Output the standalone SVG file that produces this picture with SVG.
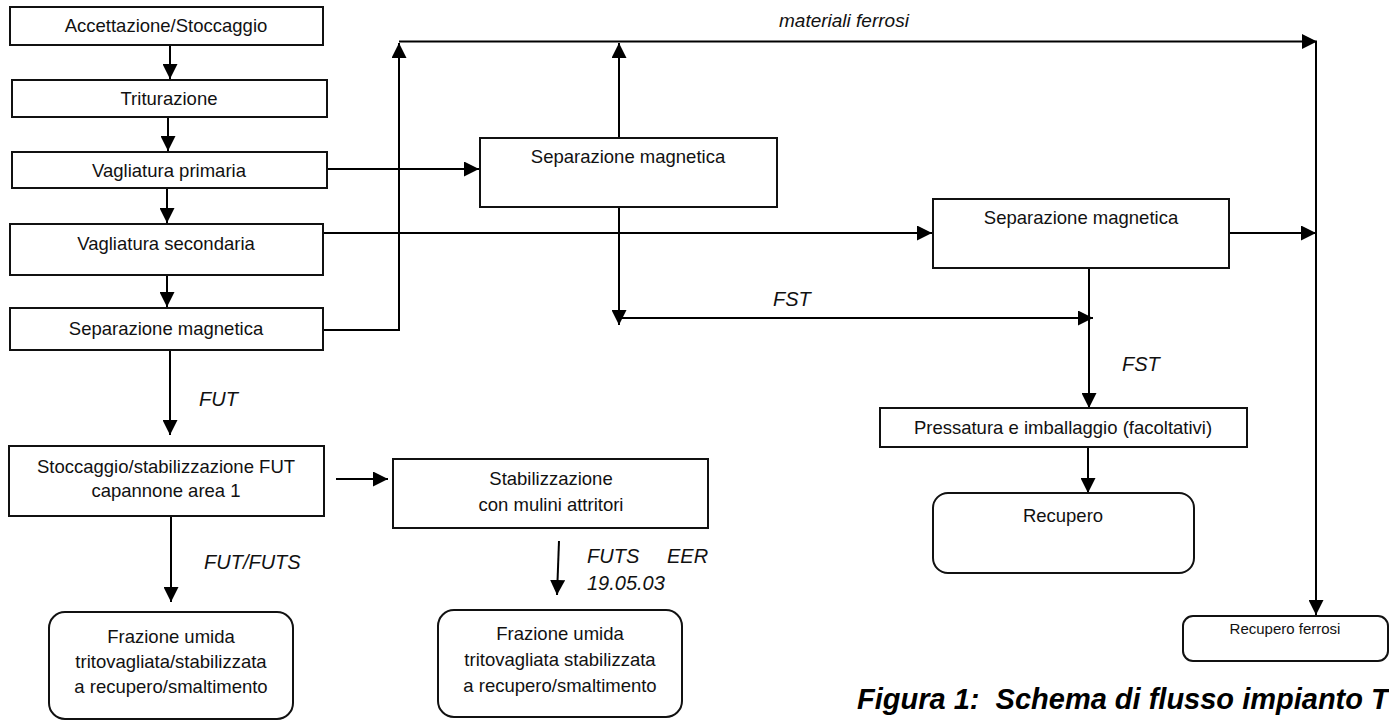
<svg xmlns="http://www.w3.org/2000/svg" width="1389" height="723" viewBox="0 0 1389 723">
<style>
.box{fill:#fff;stroke:#111;stroke-width:2}
.t{font-family:"Liberation Sans",Arial,sans-serif;font-size:18.5px;fill:#111;text-anchor:middle}
.ts{font-family:"Liberation Sans",Arial,sans-serif;font-size:15px;fill:#111;text-anchor:middle}
.lab{font-family:"Liberation Sans",Arial,sans-serif;font-size:20px;font-style:italic;fill:#111}
.cap{font-family:"Liberation Sans",Arial,sans-serif;font-size:29px;font-style:italic;font-weight:bold;fill:#000;white-space:pre}
.c{fill:none;stroke:#000;stroke-width:2}
.a{marker-end:url(#ah)}
</style>
<defs>
<marker id="ah" markerUnits="userSpaceOnUse" markerWidth="15" markerHeight="15" refX="15" refY="7.5" orient="auto">
<path d="M0,0 L15,7.5 L0,15 z" fill="#000"/>
</marker>
</defs>
<rect width="1389" height="723" fill="#fff"/>

<g id="connectors">
<path class="c a" d="M170,45 V79"/>
<path class="c a" d="M168,117 V151"/>
<path class="c a" d="M167,188 V223"/>
<path class="c a" d="M167,275 V307"/>
<path class="c a" d="M326,169 H479"/>
<path class="c a" d="M324,330 H399 V43"/>
<path class="c a" d="M399,41.5 H1317"/>
<path class="c a" d="M619,138 V43"/>
<path class="c a" d="M619,207 V325"/>
<path class="c a" d="M619,318 H1093"/>
<path class="c a" d="M324,233 H932"/>
<path class="c a" d="M1229,233 H1316"/>
<path class="c a" d="M1316,41.5 V615"/>
<path class="c a" d="M1089,268 V408"/>
<path class="c a" d="M1088,447 V493"/>
<path class="c a" d="M170,350 V435"/>
<path class="c a" d="M336,479 H388"/>
<path class="c a" d="M171,516 V602"/>
<path class="c a" d="M559,541 L557,595"/>
</g>

<g id="labels">
<text class="lab" x="779" y="27" style="font-size:19px">materiali ferrosi</text>
<text class="lab" x="773" y="306">FST</text>
<text class="lab" x="1122" y="371">FST</text>
<text class="lab" x="199" y="406">FUT</text>
<text class="lab" x="204" y="569">FUT/FUTS</text>
<text class="lab" x="587" y="563">FUTS</text>
<text class="lab" x="667" y="563">EER</text>
<text class="lab" x="587" y="590">19.05.03</text>
</g>

<g id="n1"><rect class="box" x="10" y="7" width="313" height="38"/><text class="t" x="166" y="32">Accettazione/Stoccaggio</text></g>
<g id="n2"><rect class="box" x="12" y="80" width="315" height="37"/><text class="t" x="169" y="105">Triturazione</text></g>
<g id="n3"><rect class="box" x="12" y="152" width="315" height="36"/><text class="t" x="169" y="177">Vagliatura primaria</text></g>
<g id="n4"><rect class="box" x="10" y="224" width="313" height="51"/><text class="t" x="166" y="250">Vagliatura secondaria</text></g>
<g id="n5"><rect class="box" x="10" y="308" width="313" height="42"/><text class="t" x="166" y="335">Separazione magnetica</text></g>
<g id="n6"><rect class="box" x="480" y="138" width="297" height="69"/><text class="t" x="628" y="163">Separazione magnetica</text></g>
<g id="n7"><rect class="box" x="933" y="199" width="296" height="69"/><text class="t" x="1081" y="224">Separazione magnetica</text></g>
<g id="n8"><rect class="box" x="880" y="408" width="367" height="39"/><text class="t" x="1063" y="434">Pressatura e imballaggio (facoltativi)</text></g>
<g id="n9"><rect class="box" x="933" y="493" width="261" height="80" rx="15"/><text class="t" x="1063" y="522">Recupero</text></g>
<g id="n10"><rect class="box" x="1183" y="616" width="205" height="45" rx="10"/><text class="ts" x="1285" y="634">Recupero ferrosi</text></g>
<g id="n11"><rect class="box" x="9" y="446" width="315" height="70"/><text class="t" x="166" y="473">Stoccaggio/stabilizzazione FUT</text><text class="t" x="166" y="497">capannone area 1</text></g>
<g id="n12"><rect class="box" x="393" y="459" width="315" height="69"/><text class="t" x="551" y="485">Stabilizzazione</text><text class="t" x="551" y="511">con mulini attritori</text></g>
<g id="n13"><rect class="box" x="49" y="612" width="244" height="107" rx="16"/><text class="t" x="171" y="643">Frazione umida</text><text class="t" x="171" y="668">tritovagliata/stabilizzata</text><text class="t" x="171" y="693">a recupero/smaltimento</text></g>
<g id="n14"><rect class="box" x="438" y="610" width="244" height="107" rx="16"/><text class="t" x="560" y="640">Frazione umida</text><text class="t" x="560" y="666">tritovagliata stabilizzata</text><text class="t" x="560" y="692">a recupero/smaltimento</text></g>

<text class="cap" x="857" y="709" xml:space="preserve">Figura 1:  Schema di flusso impianto T</text>
</svg>
